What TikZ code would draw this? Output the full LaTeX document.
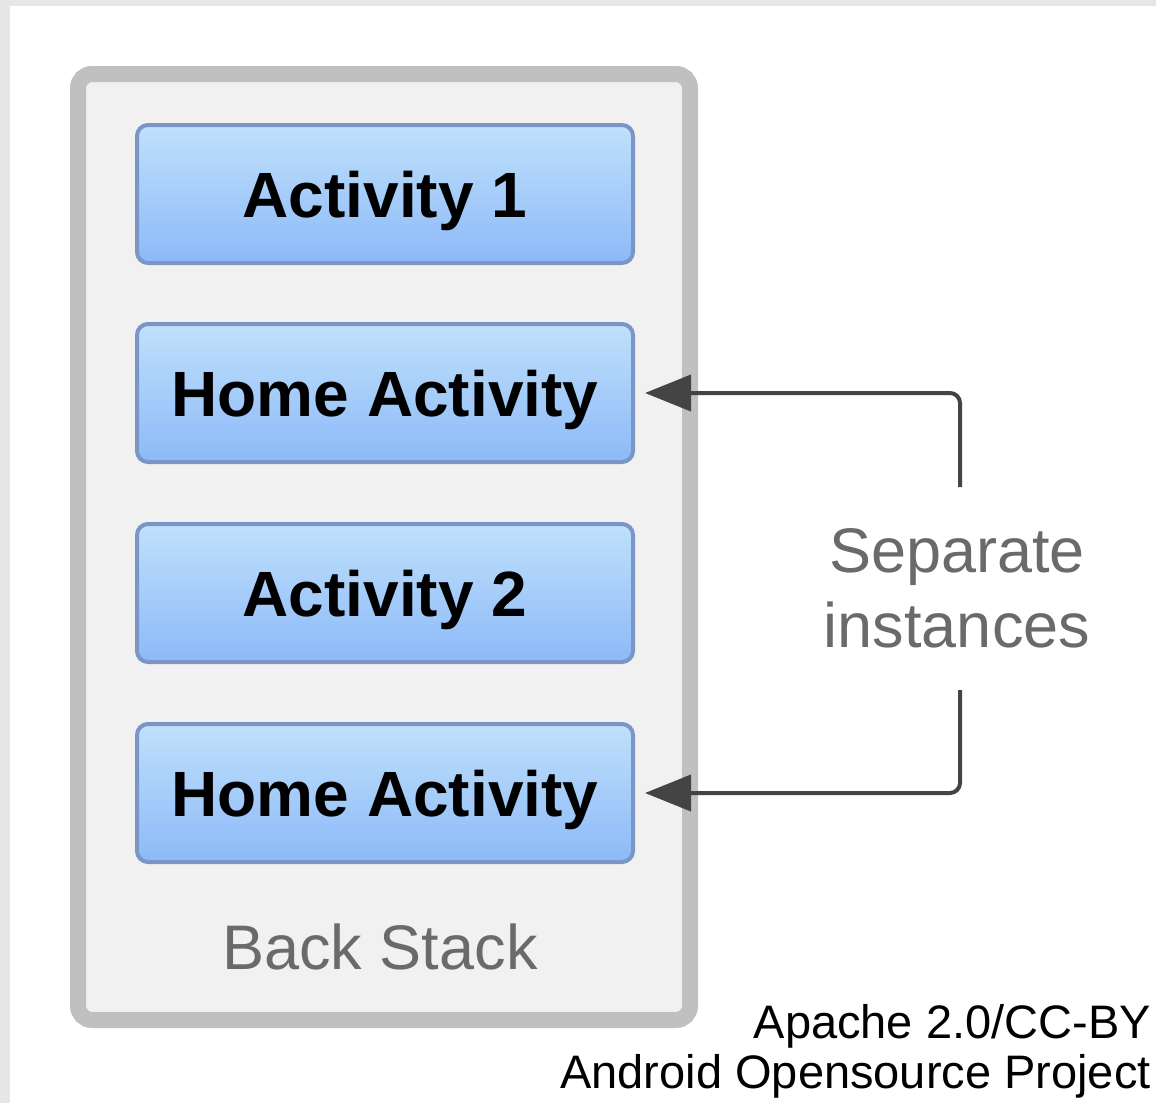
\documentclass[tikz,border=0pt]{standalone}
\usepackage{fontspec}
\setmainfont{Liberation Sans}
\usetikzlibrary{arrows.meta}
\definecolor{framegray}{HTML}{E6E6E6}
\definecolor{stackborder}{HTML}{C0C0C0}
\definecolor{stackfill}{HTML}{F1F1F1}
\definecolor{boxtop}{HTML}{C0E1FB}
\definecolor{boxbottom}{HTML}{8CB9F8}
\definecolor{boxline}{HTML}{7B96C6}
\definecolor{conncolor}{HTML}{444444}
\definecolor{labelgray}{HTML}{6A6A6A}
\tikzset{
  stackbox/.style={draw=stackborder, line width=16pt, fill=stackfill,
    rounded corners=14pt, minimum width=612pt, minimum height=946pt, inner sep=0pt},
  actbox/.style={draw=boxline, line width=4pt, rounded corners=11pt,
    top color=boxtop, bottom color=boxbottom,
    minimum width=496pt, minimum height=138pt, inner sep=0pt,
    font=\fontsize{64}{70}\selectfont\bfseries, text height=46pt, text depth=0pt},
  graytext/.style={text=labelgray, font=\fontsize{63}{75}\selectfont, inner sep=0pt},
  conn/.style={draw=conncolor, line width=4pt, rounded corners=10pt,
    -{Triangle[length=46pt,width=36pt]}, shorten >=10pt},
  credit/.style={font=\fontsize{47}{50}\selectfont, inner sep=0pt, anchor=base east}
}
\begin{document}
\begin{tikzpicture}[x=1pt,y=-1pt]
  \fill[white] (0,0) rectangle (1156,1103);
  \useasboundingbox (0,0) rectangle (1156,1103);
  \fill[framegray] (0,0) rectangle (1156,6);
  \fill[framegray] (0,0) rectangle (10,1103);

  \node[stackbox] (stack) at (384,547) {};
  \node[actbox] (act1) at (385,194) {Activity 1};
  \node[actbox] (home1) at (385,393) {Home Activity};
  \node[actbox] (act2) at (385,593) {Activity 2};
  \node[actbox] (home2) at (385,793) {Home Activity};
  \node[graytext, anchor=base] (backlabel) at (380,969) {Back Stack};

  \node[graytext, align=center] (sep) at (957,588) {Separate\\instances};
  \coordinate (c1) at (960,487);
  \coordinate (c2) at (960,690);
  \draw[conn] (c1) |- (home1.east);
  \draw[conn] (c2) |- (home2.east);

  \node[credit] (lic) at (1151,1038) {Apache 2.0/CC-BY};
  \node[credit] (proj) at (1151,1088) {Android Opensource Project};
\end{tikzpicture}
\end{document}
